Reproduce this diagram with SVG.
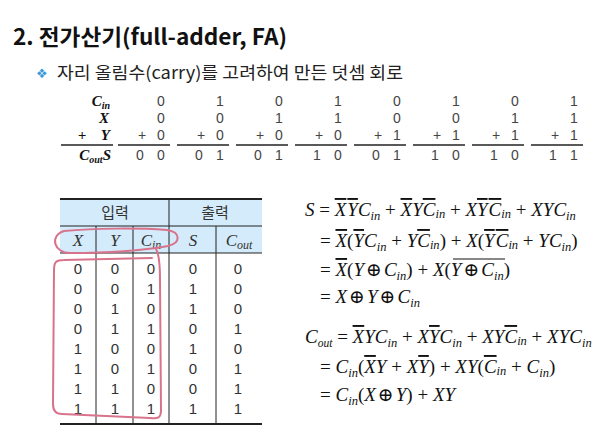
<svg xmlns="http://www.w3.org/2000/svg" width="599" height="438" viewBox="0 0 599 438">
<style>
.ttl{font-family:"Noto Sans CJK KR","Noto Sans",sans-serif;font-weight:bold;font-size:22px;fill:#111}
.sub{font-family:"Noto Sans CJK KR","Noto Sans",sans-serif;font-size:17px;fill:#222}
.lab{font-family:"Liberation Serif",serif;font-weight:bold;font-style:italic;font-size:15px;fill:#111}
.ls{font-size:10px}
.dg{font-family:"Liberation Sans",sans-serif;font-size:14px;fill:#444;text-anchor:middle}
.hd{font-family:"Noto Sans CJK KR","Noto Sans",sans-serif;font-size:15px;fill:#333;text-anchor:middle}
.hv{font-family:"Liberation Serif",serif;font-style:italic;font-size:17px;fill:#333;text-anchor:middle}
.td{font-family:"Liberation Sans",sans-serif;font-size:15px;fill:#333;text-anchor:middle}
.eq{font-family:"Liberation Serif","DejaVu Serif",serif;font-size:19px;fill:#111}
.i{font-style:italic}
.o{text-decoration:overline}
.s{font-size:12.5px;font-style:italic}
.so{font-size:11.5px;font-style:italic}
.rule{stroke:#222;stroke-width:1.3}
.grid{stroke:#222;stroke-width:1}
.thick{stroke:#222;stroke-width:2.2}
.pen{fill:none;stroke:#d9738c;stroke-width:2;stroke-linecap:round;stroke-linejoin:round}
</style>
<g id="title">
<text class="ttl" x="13" y="45" textLength="274" lengthAdjust="spacingAndGlyphs">2. 전가산기(full-adder, FA)</text>
</g>
<g id="subtitle">
<text x="36" y="78" font-family="DejaVu Sans,sans-serif" font-size="13" fill="#3a9ad9">❖</text>
<text class="sub" x="57" y="79" textLength="346" lengthAdjust="spacingAndGlyphs">자리 올림수(carry)를 고려하여 만든 덧셈 회로</text>
</g>
<g id="addition-table">
<text class="lab" x="110" y="106" text-anchor="end">C<tspan class="ls" dy="3">in</tspan></text>
<text class="lab" x="109" y="123" text-anchor="end">X</text>
<text class="lab" x="82" y="140" text-anchor="middle">+</text>
<text class="lab" x="110" y="140" text-anchor="end">Y</text>
<text class="lab" x="111" y="160" text-anchor="end">C<tspan class="ls" dy="3">out</tspan><tspan dy="-3">S</tspan></text>
<g class="dg">
<text x="161" y="106">0</text><text x="220" y="106">1</text><text x="279" y="106">0</text><text x="338" y="106">1</text><text x="397" y="106">0</text><text x="456" y="106">1</text><text x="515" y="106">0</text><text x="574" y="106">1</text>
<text x="161" y="123">0</text><text x="220" y="123">0</text><text x="279" y="123">1</text><text x="338" y="123">1</text><text x="397" y="123">0</text><text x="456" y="123">0</text><text x="515" y="123">1</text><text x="574" y="123">1</text>
<text x="142" y="140">+</text><text x="161" y="140">0</text>
<text x="201" y="140">+</text><text x="220" y="140">0</text>
<text x="260" y="140">+</text><text x="279" y="140">0</text>
<text x="319" y="140">+</text><text x="338" y="140">0</text>
<text x="378" y="140">+</text><text x="397" y="140">1</text>
<text x="437" y="140">+</text><text x="456" y="140">1</text>
<text x="496" y="140">+</text><text x="515" y="140">1</text>
<text x="555" y="140">+</text><text x="574" y="140">1</text>
<text x="140" y="160">0</text><text x="161" y="160">0</text>
<text x="199" y="160">0</text><text x="220" y="160">1</text>
<text x="258" y="160">0</text><text x="279" y="160">1</text>
<text x="317" y="160">1</text><text x="338" y="160">0</text>
<text x="376" y="160">0</text><text x="397" y="160">1</text>
<text x="435" y="160">1</text><text x="456" y="160">0</text>
<text x="494" y="160">1</text><text x="515" y="160">0</text>
<text x="553" y="160">1</text><text x="574" y="160">1</text>
</g>
<g class="rule">
<line x1="61" y1="145" x2="113" y2="145"/>
<line x1="118" y1="145" x2="170" y2="145"/>
<line x1="177" y1="145" x2="229" y2="145"/>
<line x1="236" y1="145" x2="288" y2="145"/>
<line x1="295" y1="145" x2="347" y2="145"/>
<line x1="354" y1="145" x2="406" y2="145"/>
<line x1="413" y1="145" x2="465" y2="145"/>
<line x1="472" y1="145" x2="524" y2="145"/>
<line x1="531" y1="145" x2="583" y2="145"/>
</g>
</g>
<g id="truth-table">
<rect x="60" y="199" width="202" height="54" fill="#d3ebfa"/>
<line class="thick" x1="60" y1="199" x2="262" y2="199"/>
<line class="grid" x1="60" y1="226" x2="262" y2="226"/>
<line class="grid" x1="60" y1="253" x2="262" y2="253"/>
<line class="thick" x1="60" y1="424" x2="262" y2="424"/>
<line class="grid" x1="169" y1="199" x2="169" y2="424"/>
<line class="grid" x1="96" y1="226" x2="96" y2="424"/>
<line class="grid" x1="133" y1="226" x2="133" y2="424"/>
<line class="grid" x1="216" y1="226" x2="216" y2="424"/>
<text class="hd" x="115" y="218">입력</text>
<text class="hd" x="215" y="218">출력</text>
<text class="hv" x="78" y="246">X</text>
<text class="hv" x="115" y="246">Y</text>
<text class="hv" x="151" y="246">C<tspan font-size="12" dy="3">in</tspan></text>
<text class="hv" x="193" y="246">S</text>
<text class="hv" x="239" y="246">C<tspan font-size="12" dy="3">out</tspan></text>
<g class="td">
<text x="78" y="274">0</text><text x="115" y="274">0</text><text x="151" y="274">0</text><text x="193" y="274">0</text><text x="238" y="274">0</text>
<text x="78" y="294">0</text><text x="115" y="294">0</text><text x="151" y="294">1</text><text x="193" y="294">1</text><text x="238" y="294">0</text>
<text x="78" y="314">0</text><text x="115" y="314">1</text><text x="151" y="314">0</text><text x="193" y="314">1</text><text x="238" y="314">0</text>
<text x="78" y="334">0</text><text x="115" y="334">1</text><text x="151" y="334">1</text><text x="193" y="334">0</text><text x="238" y="334">1</text>
<text x="78" y="354">1</text><text x="115" y="354">0</text><text x="151" y="354">0</text><text x="193" y="354">1</text><text x="238" y="354">0</text>
<text x="78" y="374">1</text><text x="115" y="374">0</text><text x="151" y="374">1</text><text x="193" y="374">0</text><text x="238" y="374">1</text>
<text x="78" y="394">1</text><text x="115" y="394">1</text><text x="151" y="394">0</text><text x="193" y="394">0</text><text x="238" y="394">1</text>
<text x="78" y="414">1</text><text x="115" y="414">1</text><text x="151" y="414">1</text><text x="193" y="414">1</text><text x="238" y="414">1</text>
</g>
</g>
<g id="annotations">
<path class="pen" d="M 64,231 C 95,228 140,228 167,230 C 181,232 181,243 168,246 C 140,251 100,253 70,253 C 54,253 49,236 64,231 Z"/>
<path class="pen" d="M 156,249 C 159,254 160,262 160,280 L 161,410 C 161,418 158,419 150,418 L 62,414 C 55,414 53,410 53,404 L 54,270 C 54,262 56,260 64,260 L 152,258"/>
</g>
<g id="equations">
<text class="eq" x="305" y="216"><tspan class="i">S</tspan> = <tspan class="i o">X</tspan><tspan class="i o" dx="1">Y</tspan><tspan class="i">C</tspan><tspan class="s" dy="4">in</tspan><tspan dy="-4"> + </tspan><tspan class="i o">X</tspan><tspan class="i">Y</tspan><tspan class="i o">C</tspan><tspan class="s" dy="2">in</tspan><tspan dy="-2"> + </tspan><tspan class="i">X</tspan><tspan class="i o">Y</tspan><tspan class="i o" dx="1">C</tspan><tspan class="s" dy="2">in</tspan><tspan dy="-2"> + </tspan><tspan class="i">XYC</tspan><tspan class="s" dy="4">in</tspan></text>
<text class="eq" x="320" y="247">= <tspan class="i o">X</tspan>(<tspan class="i o">Y</tspan><tspan class="i">C</tspan><tspan class="s" dy="4">in</tspan><tspan dy="-4"> + </tspan><tspan class="i">Y</tspan><tspan class="i o">C</tspan><tspan class="s" dy="2">in</tspan><tspan dy="-2">) + </tspan><tspan class="i">X</tspan>(<tspan class="i o">Y</tspan><tspan class="i o" dx="1">C</tspan><tspan class="s" dy="2">in</tspan><tspan dy="-2"> + </tspan><tspan class="i">YC</tspan><tspan class="s" dy="4">in</tspan><tspan dy="-4">)</tspan></text>
<text class="eq" x="320" y="276">= <tspan class="i o">X</tspan>(<tspan class="i">Y</tspan><tspan dx="2">⊕</tspan><tspan class="i" dx="2">C</tspan><tspan class="s" dy="4">in</tspan><tspan dy="-4">) + </tspan><tspan class="i">X</tspan>(<tspan class="i">Y</tspan><tspan dx="2">⊕</tspan><tspan class="i" dx="2">C</tspan><tspan class="s" dy="4">in</tspan><tspan dy="-4">)</tspan></text>
<line x1="453" y1="259" x2="505" y2="259" stroke="#111" stroke-width="1"/>
<text class="eq" x="320" y="303">= <tspan class="i">X</tspan><tspan dx="2">⊕</tspan><tspan class="i" dx="2">Y</tspan><tspan dx="2">⊕</tspan><tspan class="i" dx="2">C</tspan><tspan class="s" dy="4">in</tspan></text>
<text class="eq" x="305" y="343"><tspan class="i">C</tspan><tspan class="so" dy="4">out</tspan><tspan dy="-4"> = </tspan><tspan class="i o">X</tspan><tspan class="i">YC</tspan><tspan class="s" dy="4">in</tspan><tspan dy="-4"> + </tspan><tspan class="i">X</tspan><tspan class="i o">Y</tspan><tspan class="i">C</tspan><tspan class="s" dy="4">in</tspan><tspan dy="-4"> + </tspan><tspan class="i">XY</tspan><tspan class="i o">C</tspan><tspan class="s" dy="2">in</tspan><tspan dy="-2"> + </tspan><tspan class="i">XYC</tspan><tspan class="s" dy="4">in</tspan></text>
<text class="eq" x="320" y="373">= <tspan class="i">C</tspan><tspan class="s" dy="4">in</tspan><tspan dy="-4">(</tspan><tspan class="i o">X</tspan><tspan class="i">Y</tspan> + <tspan class="i">X</tspan><tspan class="i o">Y</tspan>) + <tspan class="i">XY</tspan>(<tspan class="i o">C</tspan><tspan class="s" dy="2">in</tspan><tspan dy="-2"> + </tspan><tspan class="i">C</tspan><tspan class="s" dy="4">in</tspan><tspan dy="-4">)</tspan></text>
<text class="eq" x="320" y="401">= <tspan class="i">C</tspan><tspan class="s" dy="4">in</tspan><tspan dy="-4">(</tspan><tspan class="i">X</tspan><tspan dx="2">⊕</tspan><tspan class="i" dx="2">Y</tspan>) + <tspan class="i">XY</tspan></text>
</g>
</svg>
